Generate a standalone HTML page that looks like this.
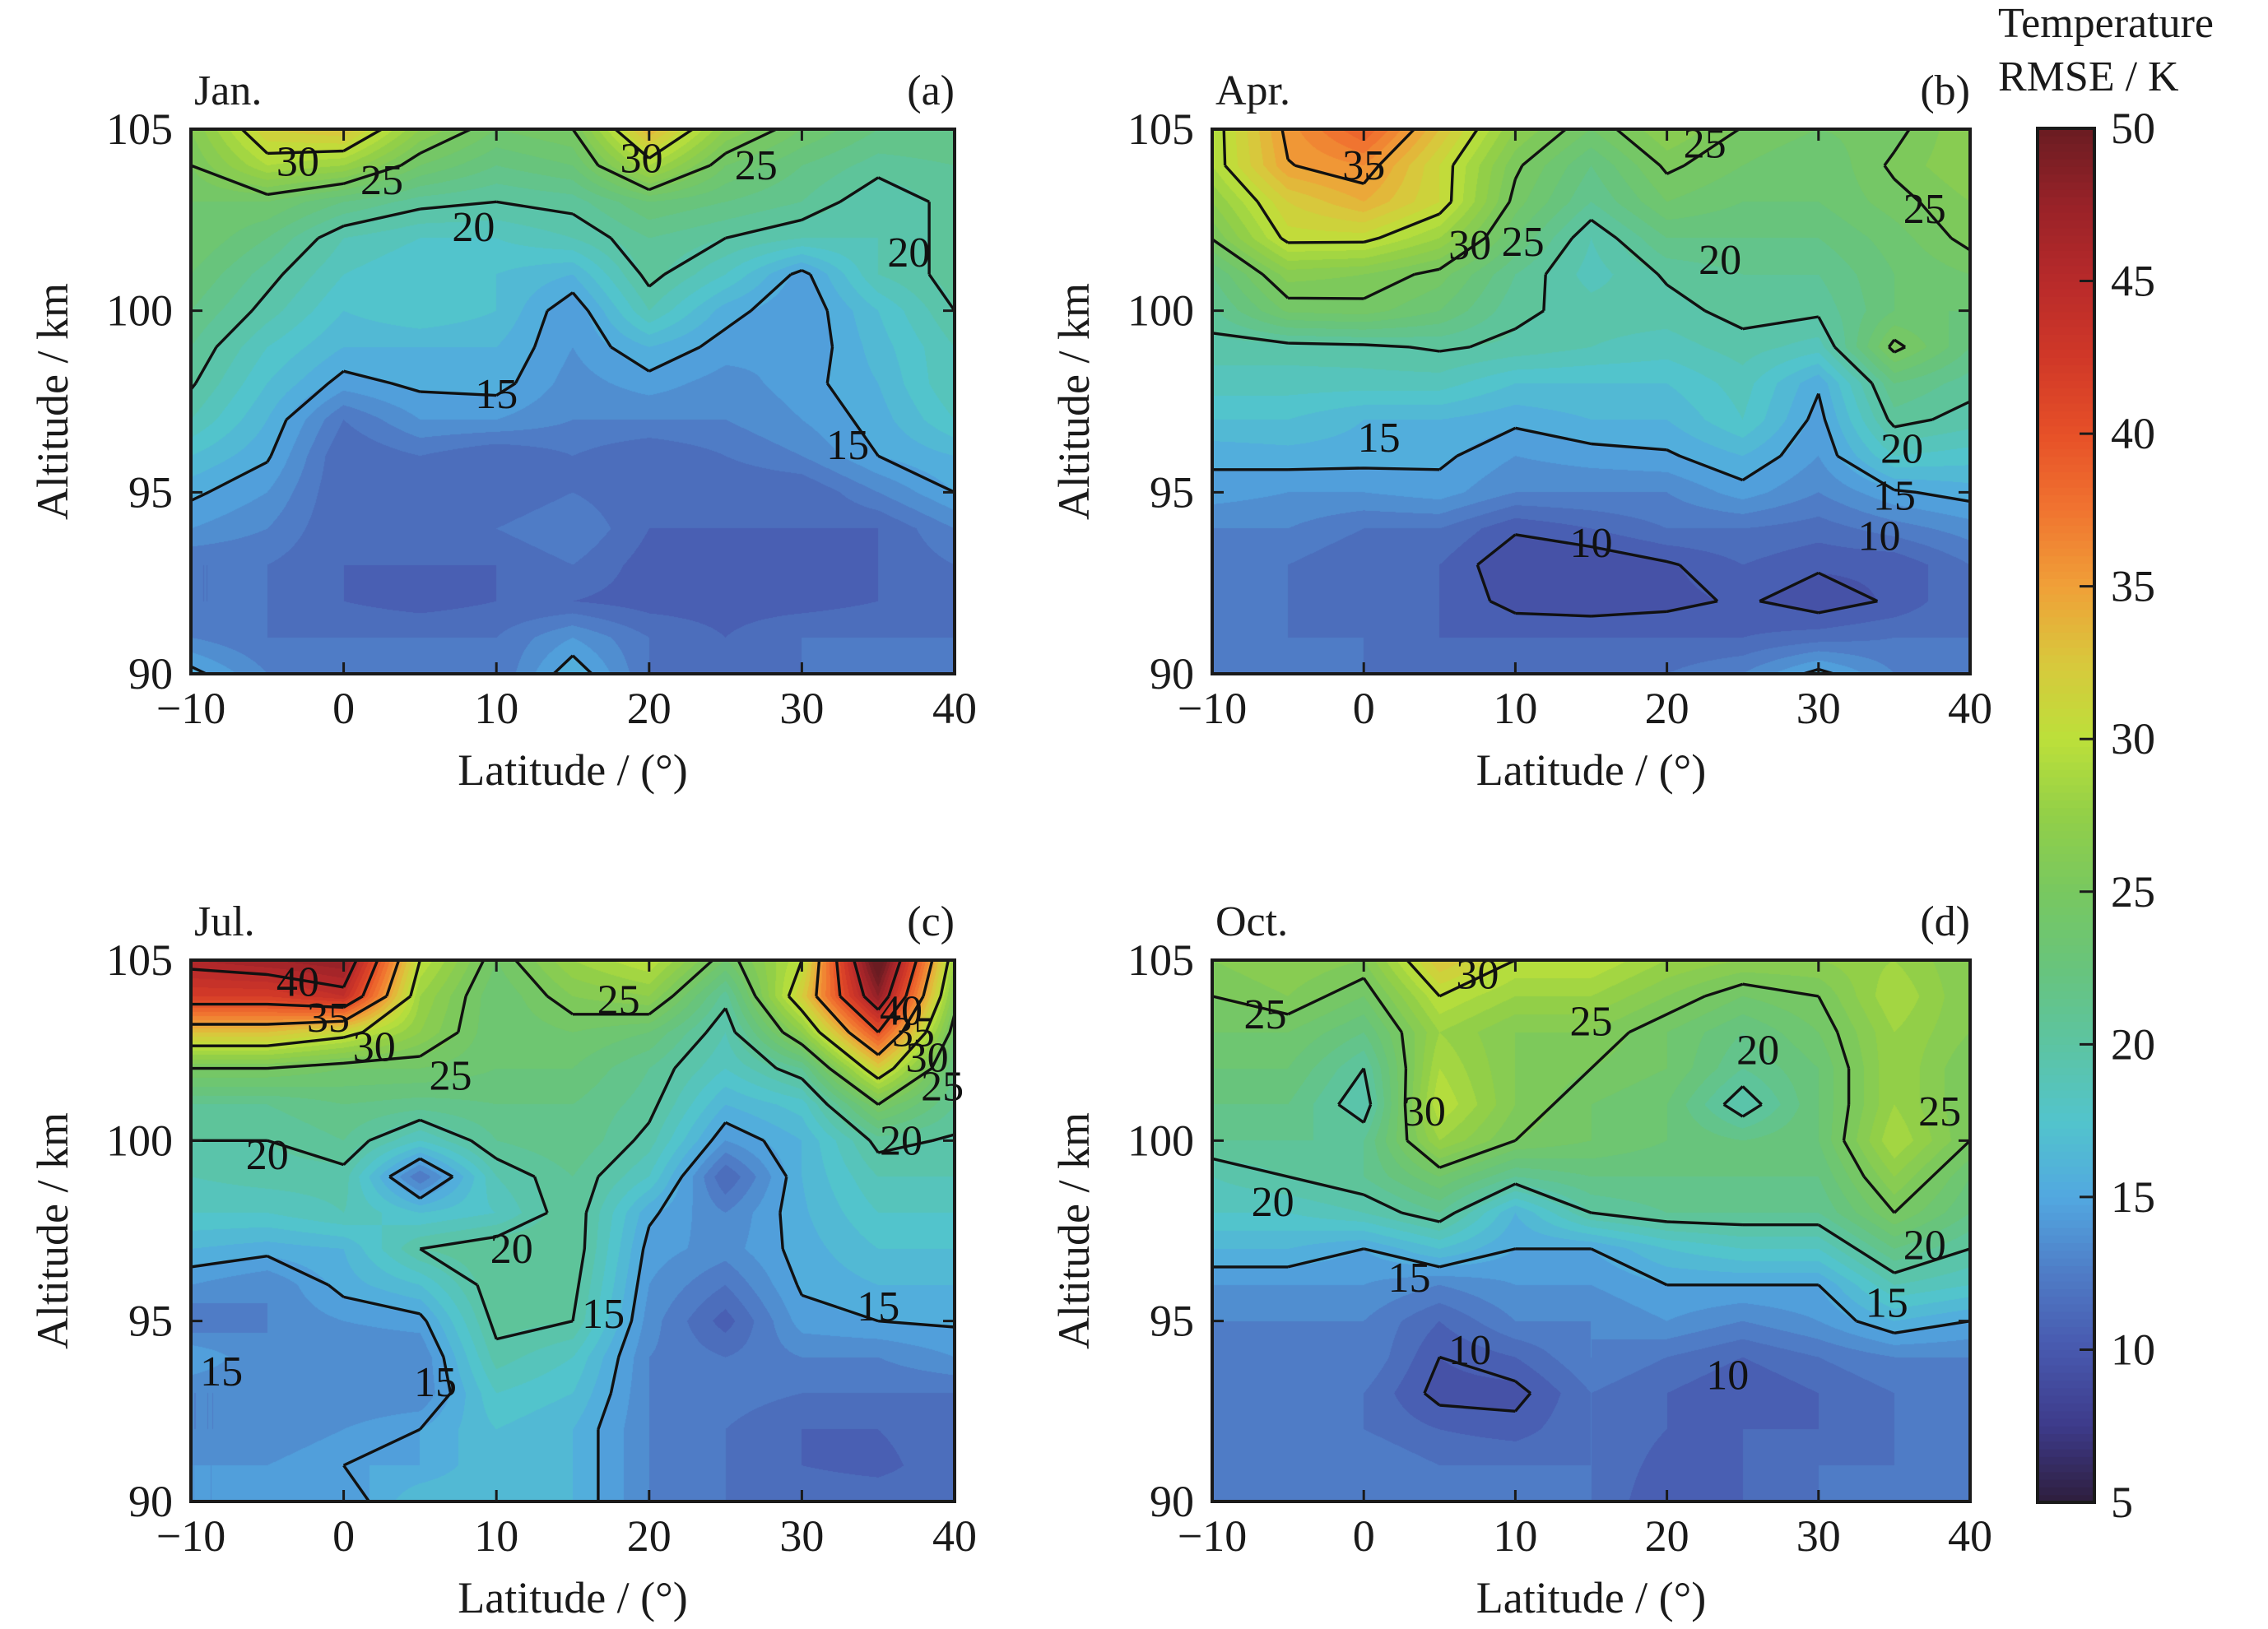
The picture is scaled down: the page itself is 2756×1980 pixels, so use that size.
<!DOCTYPE html>
<html><head><meta charset="utf-8">
<style>
html,body{margin:0;padding:0;background:#fff;}
#wrap{position:relative;width:2756px;height:1980px;overflow:hidden;font-family:"Liberation Serif",serif;}
canvas{position:absolute;}
svg{position:absolute;left:0;top:0;}
</style></head>
<body>
<div id="wrap">
<svg id="svg" width="2756" height="1980"></svg>
</div>
<script>
// ---- data ----
const lats = [-10,-5,0,5,10,15,20,25,30,35,40];
const alts = [105,104,103,102,101,100,99,98,97,96,95,94,93,92,91,90];
const levelsLine = [10,15,20,25,30,35,40,45];
const cbTicks = [5,10,15,20,25,30,35,40,45,50];
const xTicks = [-10,0,10,20,30,40];
const yTicks = [90,95,100,105];
const janGrid = [
[26,32,33,27,24,25,34,27,24,22,22],
[25,29,28,24,22,23,29,24,22,20.5,21],
[24,24,22,20.5,20,20.5,23,22,21,19,20.5],
[24,22,19,18,18,19,21,20,19,19,20.5],
[23,20.5,18,17,17,16,20.5,18,14.5,19,20.5],
[22,19.5,17,18,17,14,19,15.5,14,17,20],
[21,18,16,16,16,14,16,14.5,14,16.5,19],
[20.2,17,14.5,15.3,15.5,13.5,14.5,13.5,14.5,16,19],
[19,16,12,14,14,13,13,13,14,15.5,18],
[17,15.2,11,12,11,12,11,12,13,15,16],
[15.3,14,11,12,11,12,11,11,11,13,15],
[14,13,11,11,12,13,11,11,11,11,13],
[12,12,11,11,11,12,10.5,10.5,10.5,11,12],
[12,12,11,10.5,11,11,10.5,10.5,10.5,11,12],
[13,12,12,12,12,14,12,11,12,12,12],
[15.5,13,12,12,12,16,12,12,12,12,12]];
const aprGrid = [
[29,35.5,39,33,27,24,27,24.9,24,24.5,27],
[29,34.9,36,31,25.3,22,25.3,24,23,25.3,27],
[27,32,34,31,24.5,21,24,23,23,24.5,26],
[25.1,30.5,30.5,28,23,19,22,22,22,23.5,25.5],
[22,26.5,26,24.5,21,18.5,20.2,21,21,23,24],
[20.8,24.2,24.5,23,20.3,19.5,19.5,20.5,20.3,23,23],
[19.5,19.5,19.7,20.2,19.7,19,18.5,19.5,18.5,25.5,22],
[18.5,18.5,18.5,18.5,17,17,17,18.5,15.2,22,20.5],
[17,17,16,16,15.3,16,16,18,14.5,20.5,19.5],
[15.3,15.6,15.5,15.3,14,14.5,14.8,16,14,18,17.5],
[14.5,14,14,14.5,13,13,13,14.5,13,14.8,15.5],
[13,13,12,12,10.2,11,12,12,11.5,12.5,13.5],
[12,12,11,11,9,9,9.8,11,10.2,10.2,12],
[12,12,11,11,9.5,9.3,9.6,10.2,9.3,10.2,12],
[12,12,12,11,11,11,11,11,11.5,12,12],
[12,12,12,12,12,12,12,13,15.5,13,12]];
const julGrid = [
[46,47,48,30,24,28,30,24,30,52,28],
[42,42,44,28,23,26,27,20.5,32,48,26],
[33,33,31,27,23,24,23,19,27,40,24],
[25,25,24,24,23,23,21,18,21,32,22],
[21,21,22,21.5,22,22,20.5,16,17.5,25,21],
[20,20,21,18,21,22,19.5,14,16,20.5,19.8],
[19,19.5,19.5,12,19,21,18,11,16,19,19],
[18,18,19,17,18,21,15.3,13,15.8,18,18],
[16,15.5,16,20,21,21,14.5,13.5,15.5,17,17],
[14,13,15.5,17,21,20.5,14,12,15.2,16,16],
[12,13,14,14.5,20.5,20,13.5,10.5,14.5,15,15.2],
[15,13,13,13,19.5,18,13,12,13,13,14],
[13,13,13,13,18,17,13,12.5,12,12,12],
[13,13,14,15,17,16,13,12,11,11,12],
[14,14,15,15,17,16,13,12,11,10.5,12],
[14,14,14,17,17,16,13,12,12,12,12]];
const octGrid = [
[26,27,26,33,30,30,28,27,27,28,26],
[25,26,24,30,28,28,26,24,25,29,26],
[24,24,22,28,26,26,24,22,24,28,26],
[23,23,20,29,26,25,24,21,23,28,25],
[22,22,19,30,26,24,23,19,23,28,25],
[21,21,21,28,25,24,23,22,23,29,25],
[19,20,21,24,21,22,22,22,22,27,23],
[18,18,19,21,16,20,21,21,21,25,22],
[16,16,15,17,15,15,17,18,18,22,20],
[14,14,14,13,14,14,15,15,15,19,18],
[13,13,13,11,13,13,14,13,14,16,15],
[12,12,13,10,11,13,12,11,12,13,13],
[12,12,12,9.5,9.5,12,11,10,11,12,12],
[12,12,12,11,10.5,12,11,11,11,12,12],
[12,12,13,12,12,12,10.5,11,12,12,12],
[12,12,12,12,12,12,10,11,12,12,12]];
const janLabels = [[-3,104.1,'30'],[2.5,103.6,'25'],[8.5,102.3,'20'],[10,97.7,'15'],[33,96.3,'15'],[37,101.6,'20'],[19.5,104.2,'30'],[27,104,'25']];
const aprLabels = [[0,104,'35'],[7,101.8,'30'],[10.5,101.9,'25'],[23.5,101.4,'20'],[22.5,104.6,'25'],[37,102.8,'25'],[1,96.5,'15'],[15,93.6,'10'],[34,93.8,'10'],[35.5,96.2,'20'],[35,94.9,'15']];
const julLabels = [[-3,104.4,'40'],[-1,103.4,'35'],[2,102.6,'30'],[7,101.8,'25'],[18,103.9,'25'],[-5,99.6,'20'],[11,97,'20'],[-8,93.6,'15'],[6,93.3,'15'],[17,95.2,'15'],[35,95.4,'15'],[36.5,100,'20'],[36.5,103.6,'40'],[37.3,103,'35'],[38.2,102.3,'30'],[39.2,101.5,'25']];
const octLabels = [[-6.5,103.5,'25'],[4,100.8,'30'],[7.5,104.6,'30'],[15,103.3,'25'],[26,102.5,'20'],[-6,98.3,'20'],[3,96.2,'15'],[7,94.2,'10'],[24,93.5,'10'],[34.5,95.5,'15'],[37,97.1,'20'],[38,100.8,'25']];
const panelTitles = ['Jan.','Apr.','Jul.','Oct.'];
const panelTags = ['(a)','(b)','(c)','(d)'];

// ---- layout ----
const panels = [
 {x0:232,x1:1160,y0:157,y1:819,grid:janGrid,labels:janLabels},
 {x0:1473,x1:2394,y0:157,y1:819,grid:aprGrid,labels:aprLabels},
 {x0:232,x1:1160,y0:1167,y1:1825,grid:julGrid,labels:julLabels},
 {x0:1473,x1:2394,y0:1167,y1:1825,grid:octGrid,labels:octLabels}];
const cb = {x0:2476,x1:2545,y0:156,y1:1826,vmin:5,vmax:50};

const stops = [[5,'#2e1e3c'],[7.5,'#3d3a8a'],[10,'#4858ae'],[12.5,'#4f7cc6'],[15,'#52a8e0'],[17.5,'#52c4cc'],[20,'#5cc4a2'],[22.5,'#68c47c'],[25,'#78c860'],[27.5,'#92cf48'],[30,'#bce03a'],[32.5,'#d8c83c'],[35,'#f0a038'],[37.5,'#f07430'],[40,'#e65028'],[42.5,'#d03828'],[45,'#b82a2a'],[47.5,'#982228'],[50,'#6a1c22']];
function hex(h){return [parseInt(h.slice(1,3),16),parseInt(h.slice(3,5),16),parseInt(h.slice(5,7),16)];}
const stopsRGB = stops.map(s=>[s[0],hex(s[1])]);
function cmap(v){
  v=Math.max(5,Math.min(50,v));
  for(let i=0;i<stopsRGB.length-1;i++){
    const a=stopsRGB[i],b=stopsRGB[i+1];
    if(v<=b[0]){const t=(v-a[0])/(b[0]-a[0]);return [0,1,2].map(k=>Math.round(a[1][k]+(b[1][k]-a[1][k])*t));}
  }
  return stopsRGB[stopsRGB.length-1][1];
}
const NS='http://www.w3.org/2000/svg';
const svg=document.getElementById('svg');
function el(tag,attrs,parent){const e=document.createElementNS(NS,tag);for(const k in attrs)e.setAttribute(k,attrs[k]);(parent||svg).appendChild(e);return e;}

panels.forEach((p,pi)=>{
  const W=p.x1-p.x0,H=p.y1-p.y0;
  const xs=lat=>p.x0+(lat-lats[0])/(lats[lats.length-1]-lats[0])*W;
  const ys=alt=>p.y0+(alts[0]-alt)/(alts[0]-alts[alts.length-1])*H;
  const c=document.createElement('canvas');
  c.width=W;c.height=H;c.style.left=p.x0+'px';c.style.top=p.y0+'px';
  
  
  document.getElementById('wrap').insertBefore(c,svg);
  const ctx=c.getContext('2d');const img=ctx.createImageData(W,H);
  const nC=lats.length-1,nR=alts.length-1;
  const g=p.grid;
  for(let py=0;py<H;py++){
    const fy=(py+0.5)/H*nR;let r=Math.min(nR-1,Math.floor(fy));const ty=fy-r;
    for(let px=0;px<W;px++){
      const fx=(px+0.5)/W*nC;let q=Math.min(nC-1,Math.floor(fx));const tx=fx-q;
      const v=(g[r][q]*(1-tx)+g[r][q+1]*tx)*(1-ty)+(g[r+1][q]*(1-tx)+g[r+1][q+1]*tx)*ty;
      const col=cmap(Math.floor(v)+0.5);
      const o=(py*W+px)*4;img.data[o]=col[0];img.data[o+1]=col[1];img.data[o+2]=col[2];img.data[o+3]=255;
    }
  }
  ctx.putImageData(img,0,0);
  const gL=el('g',{});
  
  
  let d='';
  levelsLine.forEach(L=>{
    for(let r=0;r<nR;r++)for(let q=0;q<nC;q++){
      const v=[g[r][q],g[r][q+1],g[r+1][q+1],g[r+1][q]];
      const P=[[lats[q],alts[r]],[lats[q+1],alts[r]],[lats[q+1],alts[r+1]],[lats[q],alts[r+1]]];
      const pts=[];
      for(let e=0;e<4;e++){const a=v[e],b=v[(e+1)%4];
        if((a<L)!==(b<L)){const t=(L-a)/(b-a);const A=P[e],B=P[(e+1)%4];pts.push([A[0]+(B[0]-A[0])*t,A[1]+(B[1]-A[1])*t]);}}
      const seg=(A,B)=>{d+='M'+xs(A[0]).toFixed(1)+','+ys(A[1]).toFixed(1)+'L'+xs(B[0]).toFixed(1)+','+ys(B[1]).toFixed(1);};
      if(pts.length===2)seg(pts[0],pts[1]);
      else if(pts.length===4){const cv=(v[0]+v[1]+v[2]+v[3])/4;
        if((cv<L)===(v[0]<L)){seg(pts[0],pts[1]);seg(pts[2],pts[3]);}else{seg(pts[0],pts[3]);seg(pts[1],pts[2]);}}
    }
  });
  const path=el('path',{d:d,fill:'none',stroke:'#111',"stroke-width":3.4,"stroke-linejoin":'round'},gL);
  
  
  p.labels.forEach(lb=>{
    const t=el('text',{x:xs(lb[0]),y:ys(lb[1])+17,"font-size":52,"text-anchor":'middle',fill:'#111'},gL);
    
    
    t.textContent=lb[2];
  });
  const fr=el('rect',{x:p.x0,y:p.y0,width:W,height:H,fill:'none',stroke:'#1a1a1a',"stroke-width":4});
  
  
  xTicks.forEach(t=>{
    const x=xs(t);
    const tk=el('path',{d:`M${x},${p.y1}v-14M${x},${p.y0}v14`,stroke:'#1a1a1a',"stroke-width":3});
    
    
    const tl=el('text',{x:x,y:p.y1+60,"font-size":54,"text-anchor":'middle',fill:'#1a1a1a'});
    
    
    tl.textContent=t<0?'\u2212'+(-t):String(t);
  });
  yTicks.forEach(t=>{
    const y=ys(t);
    const tk=el('path',{d:`M${p.x0},${y}h14M${p.x1},${y}h-14`,stroke:'#1a1a1a',"stroke-width":3});
    
    
    const tl=el('text',{x:p.x0-22,y:y+18,"font-size":54,"text-anchor":'end',fill:'#1a1a1a'});
    
    
    tl.textContent=String(t);
  });
  const xt=el('text',{x:(p.x0+p.x1)/2,y:p.y1+135,"font-size":54,"text-anchor":'middle',fill:'#1a1a1a'});
  
  
  xt.textContent='Latitude / (\u00b0)';
  const cy=(p.y0+p.y1)/2;
  const yt=el('text',{x:p.x0-150,y:cy,"font-size":54,"text-anchor":'middle',fill:'#1a1a1a',transform:`rotate(-90 ${p.x0-150} ${cy})`});
  
  
  yt.textContent='Altitude / km';
  const ti=el('text',{x:p.x0+4,y:p.y0-30,"font-size":52,fill:'#1a1a1a'});
  
  
  ti.textContent=panelTitles[pi];
  const tg=el('text',{x:p.x1,y:p.y0-30,"font-size":52,"text-anchor":'end',fill:'#1a1a1a'});
  
  
  tg.textContent=panelTags[pi];
});

const cbG=el('g',{});


const cys=v=>cb.y1-(v-cb.vmin)/(cb.vmax-cb.vmin)*(cb.y1-cb.y0);
for(let v=cb.vmin;v<cb.vmax;v+=0.25){
  const col=cmap(v+0.125);
  const r=el('rect',{x:cb.x0,y:cys(v+0.25)-0.5,width:cb.x1-cb.x0,height:cys(v)-cys(v+0.25)+1,fill:`rgb(${col})`},cbG);
  
  
}
const cbf=el('rect',{x:cb.x0,y:cb.y0,width:cb.x1-cb.x0,height:cb.y1-cb.y0,fill:'none',stroke:'#1a1a1a',"stroke-width":4},cbG);


cbTicks.forEach(t=>{
  const y=cys(t);
  const tk=el('path',{d:`M${cb.x1},${y}h-18`,stroke:'#1a1a1a',"stroke-width":3},cbG);
  
  
  const tl=el('text',{x:cb.x1+20,y:y+18,"font-size":54,fill:'#1a1a1a'},cbG);
  
  
  tl.textContent=String(t);
});
const c1=el('text',{x:2428,y:45,"font-size":52,fill:'#1a1a1a'},cbG);


c1.textContent='Temperature';
const c2=el('text',{x:2428,y:110,"font-size":52,fill:'#1a1a1a'},cbG);


c2.textContent='RMSE / K';
</script>
</body></html>
